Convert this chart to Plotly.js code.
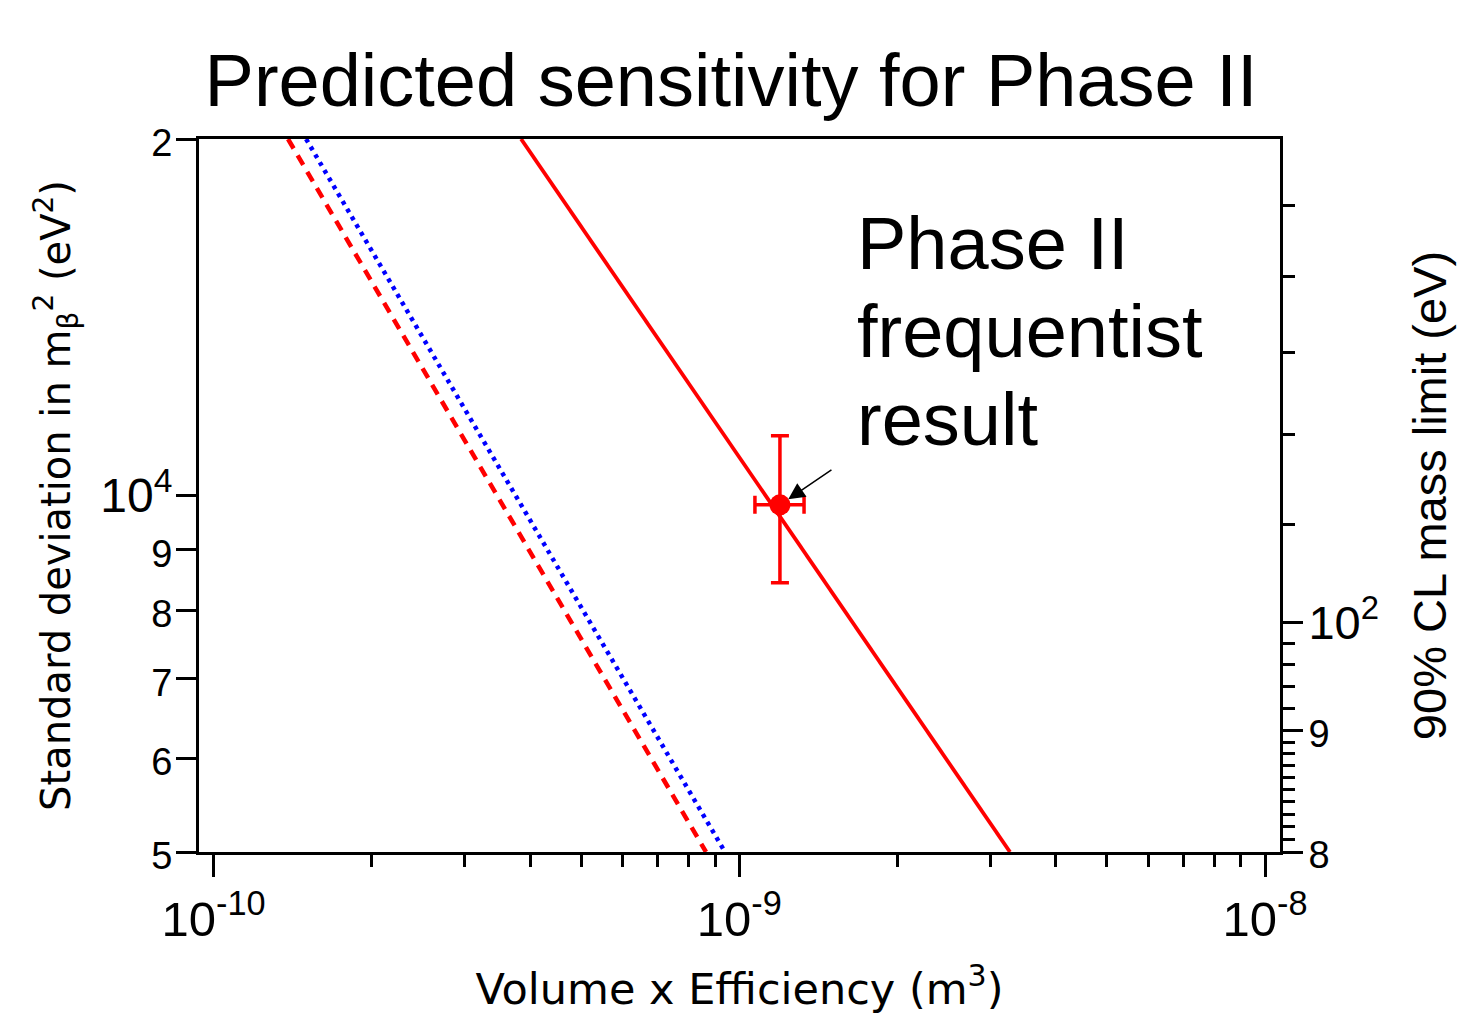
<!DOCTYPE html>
<html>
<head>
<meta charset="utf-8">
<script src="https://cdn.plot.ly/plotly-3.0.1.min.js"></script>
<style>html,body{margin:0;padding:0;background:#fff;}#chart{width:1462px;height:1016px;}</style>
</head>
<body>
<div id="chart"></div>
<script>
// ---- data ----
const solidVolume = [3.846e-10, 3.273e-9];     // Phase II projected (solid red)
const solidSigma  = [20000, 5000];
const dashVolume  = [1.386e-10, 8.645e-10];    // dashed red
const dashSigma   = [20000, 5000];
const dotVolume   = [1.500e-10, 9.395e-10];    // dotted blue
const dotSigma    = [20000, 5000];

const resultVolume      = [1.195e-9];          // Phase II frequentist result
const resultSigma       = [9820];
const resultVolErrPlus  = [0.133e-9];
const resultVolErrMinus = [0.124e-9];
const resultSigErrPlus  = [1410];
const resultSigErrMinus = [1380];

const xTickVals  = [1e-10, 1e-9, 1e-8];
const xTickText  = ['10<sup>-10</sup>', '10<sup>-9</sup>', '10<sup>-8</sup>'];
const xMinorVals = [2e-10,3e-10,4e-10,5e-10,6e-10,7e-10,8e-10,9e-10,
                    2e-9,3e-9,4e-9,5e-9,6e-9,7e-9,8e-9,9e-9];
const yTickVals  = [5000, 6000, 7000, 8000, 9000, 10000, 20000];
const yTickText  = ['5', '6', '7', '8', '9', '10<sup>4</sup>', '2'];
const y2TickVals = [80, 90, 100];
const y2TickText = ['8', '9', '10<sup>2</sup>'];
const y2MinorVals = [81,82,83,84,85,86,87,88,89,92,94,96,98,110,120,130,140,150];

const annotationLines = ['Phase II', 'frequentist', 'result'];

// ---- helpers ----
const small = s => '<span style="font-size:38px">' + s + '</span>';
const fmtTicks = arr => arr.map(t => t.indexOf('<sup>') >= 0 ? t : small(t));

const RED = 'rgb(255,0,0)', BLUE = 'rgb(0,0,255)';

const traces = [
  {x: dashVolume, y: dashSigma, type: 'scatter', mode: 'lines',
   line: {color: RED, width: 4.5, dash: '11px,8px'}, showlegend: false, hoverinfo: 'skip'},
  {x: dotVolume, y: dotSigma, type: 'scatter', mode: 'lines',
   line: {color: BLUE, width: 4.5, dash: '4px,5px'}, showlegend: false, hoverinfo: 'skip'},
  {x: solidVolume, y: solidSigma, type: 'scatter', mode: 'lines',
   line: {color: RED, width: 3.8}, showlegend: false, hoverinfo: 'skip'},
  {x: resultVolume, y: resultSigma, type: 'scatter', mode: 'markers',
   marker: {color: RED, size: 21},
   error_x: {type: 'data', symmetric: false, array: resultVolErrPlus, arrayminus: resultVolErrMinus,
             color: RED, thickness: 3.5, width: 9},
   error_y: {type: 'data', symmetric: false, array: resultSigErrPlus, arrayminus: resultSigErrMinus,
             color: RED, thickness: 3.5, width: 9},
   showlegend: false, hoverinfo: 'skip', cliponaxis: false},
  {x: [], y: [], yaxis: 'y2', type: 'scatter', mode: 'lines', showlegend: false, hoverinfo: 'skip'}
];

const annotations = annotationLines.map((t, i) => ({
  xref: 'paper', yref: 'paper', x: (855 - 199) / 1081, y: 0.853 - i * 0.1235,
  xanchor: 'left', yanchor: 'middle', showarrow: false, text: t,
  font: {family: 'Liberation Sans, Arial, sans-serif', size: 74, color: '#000'}
}));
annotations.push({
  xref: 'x', yref: 'y', x: Math.log10(resultVolume[0]), y: Math.log10(resultSigma[0]),
  text: '', showarrow: true, arrowhead: 2, arrowsize: 2.2, arrowwidth: 1.5, arrowcolor: '#000',
  standoff: 10, ax: 53, ay: -36
});

const layout = {
  width: 1462, height: 1016,
  margin: {l: 199, r: 182, t: 139, b: 164, autoexpand: false},
  paper_bgcolor: '#fff', plot_bgcolor: '#fff',
  font: {family: 'Liberation Sans, Arial, sans-serif', color: '#000'},
  title: {text: 'Predicted sensitivity for Phase II', x: 0.5, xanchor: 'center',
          y: 1 - 80 / 1016, yanchor: 'middle', yref: 'container',
          font: {family: 'Liberation Sans, Arial, sans-serif', size: 74, color: '#000'}},
  xaxis: {
    type: 'log', range: [-10.0276, -7.9715], autorange: false,
    showline: true, linecolor: '#000', linewidth: 3, mirror: true,
    showgrid: false, zeroline: false, automargin: true,
    tickmode: 'array', tickvals: xTickVals, ticktext: xTickText,
    ticks: 'outside', ticklen: 22, tickwidth: 3, tickcolor: '#000',
    tickfont: {family: 'Liberation Sans, Arial, sans-serif', size: 49, color: '#000'},
    minor: {tickmode: 'array', tickvals: xMinorVals, ticks: 'outside', ticklen: 12, tickwidth: 3, tickcolor: '#000', showgrid: false},
    title: {text: 'Volume x Efficiency (m<sup>3</sup>)', standoff: 30,
            font: {family: 'DejaVu Sans, sans-serif', size: 43, color: '#000'}}
  },
  yaxis: {
    type: 'log', range: [Math.log10(5000), Math.log10(20000)], autorange: false,
    showline: true, linecolor: '#000', linewidth: 3, mirror: false,
    showgrid: false, zeroline: false, automargin: true,
    tickmode: 'array', tickvals: yTickVals, ticktext: fmtTicks(yTickText),
    ticks: 'outside', ticklen: 20, tickwidth: 3, tickcolor: '#000', ticklabelstandoff: -6,
    tickfont: {family: 'Liberation Sans, Arial, sans-serif', size: 48, color: '#000'},
    title: {text: 'Standard deviation in m<sub>β</sub><sup>2</sup> (eV<sup>2</sup>)', standoff: 18,
            font: {family: 'DejaVu Sans, sans-serif', size: 40, color: '#000'}}
  },
  yaxis2: {
    type: 'log', range: [Math.log10(80), Math.log10(160)], autorange: false,
    overlaying: 'y', side: 'right', anchor: 'x',
    showline: true, linecolor: '#000', linewidth: 3,
    showgrid: false, zeroline: false, automargin: true,
    tickmode: 'array', tickvals: y2TickVals, ticktext: fmtTicks(y2TickText),
    ticks: 'outside', ticklen: 20, tickwidth: 3, tickcolor: '#000', ticklabelstandoff: -4,
    tickfont: {family: 'Liberation Sans, Arial, sans-serif', size: 47, color: '#000'},
    minor: {tickmode: 'array', tickvals: y2MinorVals, ticks: 'outside', ticklen: 12, tickwidth: 3, tickcolor: '#000', showgrid: false},
    title: {text: '90% CL mass limit (eV)', standoff: 36,
            font: {family: 'Liberation Sans, Arial, sans-serif', size: 47, color: '#000'}}
  },
  annotations: annotations,
  showlegend: false
};

Plotly.newPlot('chart', traces, layout, {staticPlot: true});
</script>
</body>
</html>
